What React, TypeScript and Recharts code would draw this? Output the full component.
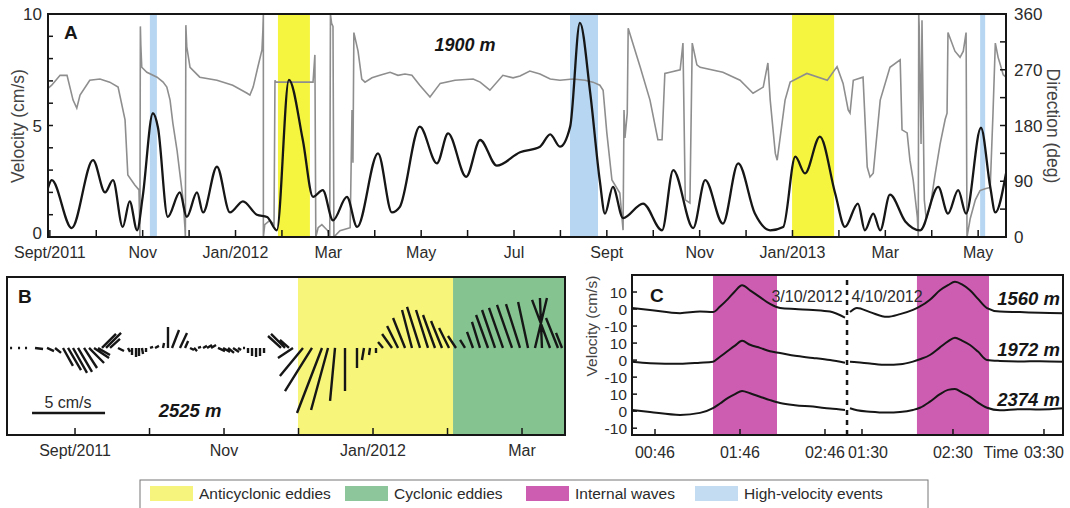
import React from 'react';
import { ComposedChart, Line, XAxis, YAxis, ReferenceArea, ReferenceLine } from 'recharts';

const FONT = "'Liberation Sans', Arial, sans-serif";
const INK = '#161616';
const TXT = '#2b2b2b';

// ---------- Panel A (1900 m), x = months since 1 Sept 2011 ----------
const A_VELOCITY: [number, number][] = [
  [-0.04, 2.2], [0.04, 2.55], [0.47, 0.4], [0.93, 3.45], [1.19, 2.0], [1.36, 2.55], [1.57, 0.45],
  [1.72, 1.6], [1.88, 0.3], [2.0, 1.8], [2.22, 5.55], [2.33, 4.9], [2.54, 0.9], [2.8, 2.0],
  [2.95, 0.9], [3.17, 2.0], [3.3, 1.1], [3.6, 3.15], [3.88, 1.1], [4.16, 1.6], [4.46, 1.0],
  [4.68, 0.9], [4.89, 0.3], [5.15, 7.05], [5.45, 4.35], [5.67, 1.8], [5.88, 2.1], [6.1, 0.75],
  [6.4, 1.8], [6.62, 0.45], [7.07, 3.75], [7.37, 1.1], [7.54, 1.35], [7.97, 4.95], [8.34, 3.3],
  [8.58, 4.65], [8.97, 2.7], [9.27, 4.35], [9.63, 3.2], [10.13, 3.8], [10.56, 4.05], [10.78, 4.6],
  [10.99, 4.05], [11.21, 4.95], [11.42, 9.6], [11.64, 6.5], [11.85, 2.5], [11.96, 1.05],
  [12.13, 2.25], [12.35, 0.85], [12.78, 1.5], [13.19, 0.3], [13.43, 3.0], [13.86, 0.4],
  [14.12, 2.55], [14.5, 0.6], [14.83, 3.3], [15.19, 1.05], [15.52, 0.3], [15.8, 0.45],
  [16.06, 3.6], [16.27, 2.85], [16.59, 4.5], [16.92, 1.95], [17.13, 0.45], [17.41, 1.5],
  [17.56, 0.3], [17.74, 1.05], [17.89, 0.3], [18.1, 1.9], [18.43, 0.7], [18.75, 0.3],
  [19.14, 2.25], [19.35, 1.05], [19.57, 2.1], [19.74, 1.05], [20.06, 4.9], [20.26, 2.25],
  [20.37, 1.1], [20.6, 2.85],
];

const A_DIRECTION: [number, number][] = [
  [-0.04, 240], [0.04, 245], [0.22, 261], [0.37, 261], [0.5, 221], [0.58, 208], [0.65, 229],
  [0.86, 253], [1.08, 255], [1.29, 250], [1.47, 242], [1.62, 189], [1.68, 100], [1.83, 84],
  [1.92, 76], [1.94, 0], [1.95, 340], [1.96, 310], [1.98, 274], [2.09, 266], [2.31, 258],
  [2.44, 250], [2.52, 242], [2.59, 221], [2.65, 184], [2.74, 140], [2.8, 103], [2.87, 60],
  [2.91, 16], [2.92, 0], [2.93, 342], [2.95, 307], [3.02, 274], [3.23, 258], [3.6, 253],
  [3.94, 245], [4.25, 232], [4.31, 229], [4.38, 242], [4.48, 274], [4.57, 302], [4.59, 334],
  [4.6, 360], [4.6, 0], [4.63, 20], [4.74, 27], [4.83, 20], [4.85, 253], [4.87, 250],
  [5.17, 250], [5.5, 250], [5.67, 250], [5.71, 294], [5.73, 0], [5.78, 15], [5.86, 20],
  [5.99, 10], [6.03, 0], [6.045, 360], [6.07, 345], [6.1, 340], [6.12, 0], [6.25, 10],
  [6.47, 15], [6.51, 205], [6.53, 120], [6.55, 330], [6.64, 300], [6.72, 255], [6.79, 250],
  [6.94, 257], [7.11, 261], [7.33, 266], [7.5, 261], [7.65, 263], [7.8, 261], [7.97, 245],
  [8.19, 226], [8.41, 248], [8.73, 253], [9.12, 255], [9.27, 250], [9.48, 237], [9.76, 261],
  [9.98, 257], [10.13, 260], [10.34, 268], [10.56, 263], [10.78, 255], [10.99, 253],
  [11.27, 255], [11.53, 253], [11.7, 250], [11.85, 245], [11.92, 237], [12.0, 168],
  [12.11, 92], [12.28, 71], [12.35, 11], [12.37, 205], [12.39, 160], [12.44, 200], [12.46, 337],
  [12.72, 274], [12.93, 221], [13.1, 157], [13.19, 157], [13.25, 264], [13.36, 266],
  [13.58, 270], [13.64, 313], [13.69, 60], [13.79, 55], [13.84, 313], [13.94, 278], [14.01, 274],
  [14.5, 266], [14.87, 253], [15.15, 232], [15.37, 242], [15.47, 281], [15.52, 221],
  [15.63, 135], [15.67, 124], [15.84, 221], [15.95, 250], [16.31, 264], [16.75, 253],
  [16.96, 275], [17.09, 248], [17.2, 205], [17.24, 200], [17.31, 253], [17.52, 258],
  [17.61, 113], [17.67, 97], [17.74, 103], [17.89, 221], [18.1, 274], [18.32, 286],
  [18.36, 173], [18.47, 168], [18.53, 124], [18.6, 92], [18.69, 32], [18.71, 0], [18.72, 360],
  [18.73, 340], [18.77, 150], [18.79, 350], [18.84, 60], [18.88, 30], [18.97, 50], [19.07, 100],
  [19.18, 150], [19.29, 190], [19.33, 200], [19.35, 330], [19.4, 320], [19.5, 300],
  [19.61, 290], [19.68, 300], [19.74, 330], [19.76, 0], [19.83, 30], [19.94, 60], [20.04, 75],
  [20.15, 78], [20.26, 80], [20.32, 200], [20.37, 313], [20.43, 290], [20.47, 280],
  [20.54, 262], [20.6, 258],
];

const A_MONTH_LABELS = ['Sept/2011', 'Nov', 'Jan/2012', 'Mar', 'May', 'Jul', 'Sept', 'Nov', 'Jan/2013', 'Mar', 'May'];
const A_YELLOW: [number, number][] = [[4.914, 5.603], [15.991, 16.897]];
const A_BLUE: [number, number][] = [[2.155, 2.306], [11.207, 11.81], [20.043, 20.151]];

// ---------- Panel B (2525 m) stick plot, x = months since 1 Sept 2011 ----------
const STICK_T = [
  -0.872, -0.765, -0.671, -0.537, -0.376, -0.268, -0.161, -0.094, -0.027, 0.04, 0.121, 0.188,
  0.255, 0.309, 0.362, 0.416, 0.47, 0.577, 0.711, 0.765, 0.819, 0.859, 0.899, 0.953, 1.007,
  1.074, 1.181, 1.248, 1.302, 1.409, 1.477, 1.544, 1.597, 1.651, 1.718, 1.772, 1.826, 1.919,
  1.987, 2.054, 2.121, 2.188, 2.255, 2.322, 2.376, 2.43, 2.483, 2.537, 2.765, 2.819, 2.872,
  2.926, 3.06, 3.181, 3.315, 3.396, 3.49, 3.624, 3.785, 3.879, 3.96, 4.04, 4.134, 4.255, 4.336,
  4.43, 4.523, 4.631, 4.738, 4.832, 4.926, 5.02, 5.114, 5.235, 5.342, 5.436, 5.544, 5.638,
  5.745, 5.866, 5.973, 6.081, 6.174, 6.268, 6.376, 6.483, 6.537,
];
// east / north components, cm/s
const STICK_U = [
  0.14, 0.14, 0.14, 0.55, 0.48, 0.41, 0.68, 0.89, 0.96, 0.96, 0.89, 1.03, 1.03, 0.82, 0.96, 1.03,
  0.68, 0.41, 0.14, 0, 0, 0, 0.07, 0, 0.21, 0.27, 0.07, 0, 0.48, 0.48, 0.21, 0.27, 0.21, 0.21,
  0.27, 0.34, 0.34, 0.48, 0.48, 0.41, 0.41, 0.21, 0.14, 0, 0, 0, 0, 0, -0.89, -0.96, -0.62,
  -1.03, -1.58, -1.85, -1.71, -1.16, -0.34, 0, 0, -0.14, -0.07, 0, -0.34, -0.68, -0.75, -0.82,
  -0.68, -0.89, -0.82, -0.82, -0.75, -0.68, -0.55, -0.34, -0.41, -0.55, -0.82, -0.89, -0.96,
  -1.03, -0.96, -0.68, 0.82, -0.14, -1.23, -0.82, -0.41,
];
const STICK_V = [
  0, 0, 0, -0.07, -0.21, -0.34, -1.23, -1.51, -1.71, -1.64, -1.37, -1.03, -0.68, -0.48, 0.96,
  1.03, 0.62, -0.21, -0.27, -0.48, -0.62, -0.55, -0.41, -0.27, 0.07, 0.14, 0.34, 1.44, 1.23,
  1.03, 0.48, -0.14, -0.21, 0.07, 0.14, 0.21, 0.21, -0.21, -0.27, -0.34, -0.27, -0.14, 0,
  -0.34, -0.55, -0.62, -0.55, -0.34, 0.82, 0.96, 0.55, -0.68, -1.92, -2.95, -4.45, -4.25,
  -3.63, -2.95, -1.37, -0.82, -0.48, -0.34, 0.41, 0.96, 1.51, 2.05, 2.6, 2.81, 2.6, 2.26, 1.85,
  1.37, 0.82, 0.55, 1.1, 1.78, 2.26, 2.6, 2.74, 2.95, 3.01, 3.15, 3.42, 3.42, 3.29, 2.05, 1.03,
];
const B_MONTH_LABELS = ['Sept/2011', 'Nov', 'Jan/2012', 'Mar'];
const B_YELLOW: [number, number] = [2.993, 5.074];
const B_GREEN: [number, number] = [5.074, 6.577];
const SCALE_BAR = { t: -0.577, v: -4.45, speed: 5 };

// ---------- Panel C internal waves ----------
const C_DAY1_TIME = [0.496, 0.708, 1.061, 1.296, 1.449, 1.532, 1.626, 1.708, 1.791, 1.885, 2.002, 2.12, 2.238, 2.414, 2.626, 2.826, 3.002];
const C1560_DAY1 = [0.6, -0.5, -2.4, -1.5, -1.8, 1.5, 6, 10.5, 14, 11, 7, 3, 0.6, 0, -0.5, -1.5, -5];
const C1972_DAY1 = [-0.9, -1.8, -2.2, -1.5, -0.9, 2, 5.5, 8.5, 11.3, 9, 7.2, 5.2, 4.2, 2.5, 1.3, 0, -1.6];
const C2374_DAY1 = [0.7, -0.5, -2.2, -1, 1.8, 4.5, 7.8, 10, 11.9, 10.5, 8.5, 6.5, 4.8, 3.5, 2.7, 1.5, 0.7];
const C_DAY2_TIME = [1.368, 1.445, 1.588, 1.775, 1.918, 2.06, 2.137, 2.247, 2.357, 2.445, 2.522, 2.599, 2.687, 2.775, 2.874, 3.016, 3.236, 3.456, 3.709];
const C1560_DAY2 = [-1.8, 0.6, -1.8, -4.6, -3, -0.5, 1.5, 5.5, 11, 14, 16, 14.5, 11, 6, 0.6, -1.5, -1.8, -2.2, -2.4];
const C1972_DAY2 = [-0.9, -1.2, -2, -2.8, -2.5, -0.9, 0.5, 3, 7.5, 11, 13.2, 11.5, 8.9, 5, 0.1, -0.5, -0.8, -0.6, -0.9];
const C2374_DAY2 = [1.7, 0.5, -0.3, -0.8, -0.5, 0.7, 2, 5.6, 10, 12.5, 13, 11, 8.5, 5, 2, 0.5, 1.2, 1, 1.7];
const C_DEPTHS = ['1560 m', '1972 m', '2374 m'];
const C_OFFSETS = [60, 30, 0];
const C_DAY1_TICKS = ['00:46', '01:46', '02:46'];
const C_DAY2_TICKS = ['01:30', '02:30', '03:30'];
const C_WAVES_DAY1: [number, number] = [1.449, 2.202];
const C_WAVES_DAY2: [number, number] = [2.104, 2.896];
const C_BREAK_DAY1 = 3.026;

const LEGEND = [
  { label: 'Anticyclonic eddies', color: '#f6f47c', x: 150 },
  { label: 'Cyclonic eddies', color: '#8cc69a', x: 345 },
  { label: 'Internal waves', color: '#cc5db0', x: 526 },
  { label: 'High-velocity events', color: '#c4dcf2', x: 695 },
];

const hm = (s: string) => {
  const [h, m] = s.split(':').map(Number);
  return h + m / 60;
};
// broken time axis: day 2 continues right of the dashed line
const day1Axis = (h: number) => h;
const day2Axis = (h: number) => 3.202 + (h - 1.5) * 1.0706;

const bottomTick = (labelOf: (v: number) => string | undefined, len: number, size: number, gap: number,
  shiftOf: (v: number) => number = () => 0) =>
  (p: any) => {
    const label = labelOf(p.payload.value);
    return (
      <g>
        <line x1={p.x} x2={p.x} y1={p.y} y2={p.y - len} stroke={INK} strokeWidth={1.5} />
        {label ? (
          <text x={p.x + shiftOf(p.payload.value)} y={p.y + gap} textAnchor="middle" fontSize={size} fontFamily={FONT} fill={TXT}>{label}</text>
        ) : null}
      </g>
    );
  };

const sideTick = (labelOf: (v: number) => string | undefined, side: 1 | -1, len: number, size: number, gap: number,
  dyOf: (v: number) => string = () => '0.36em') =>
  (p: any) => {
    const label = labelOf(p.payload.value);
    return (
      <g>
        <line x1={p.x} x2={p.x + side * len} y1={p.y} y2={p.y} stroke={INK} strokeWidth={1.5} />
        {label ? (
          <text x={p.x - side * gap} y={p.y} dy={dyOf(p.payload.value)} textAnchor={side === 1 ? 'end' : 'start'} fontSize={size} fontFamily={FONT} fill={TXT}>{label}</text>
        ) : null}
      </g>
    );
  };

export default function App() {
  const velData = A_VELOCITY.map(([t, v]) => ({ t, v }));
  const dirData = A_DIRECTION.map(([t, d]) => ({ t, d }));
  const monthTicksA = Array.from({ length: 21 }, (_, i) => i);

  const bX: [number, number] = [-0.913, 6.577];
  const bY: [number, number] = [-5.96, 4.86];
  const K = (158 / (bY[1] - bY[0])) / (558 / (bX[1] - bX[0]));
  const sticks: { x: number; y: number | null }[] = [];
  STICK_T.forEach((t, i) => {
    const tip = t + STICK_U[i] * K;
    sticks.push({ x: t, y: 0 }, { x: tip, y: STICK_V[i] }, { x: tip, y: null });
  });

  const cBreak = day1Axis(C_BREAK_DAY1);
  const cRows = [
    ...C_DAY1_TIME.map((h, i) => ({ x: day1Axis(h), a: C1560_DAY1[i] + C_OFFSETS[0], b: C1972_DAY1[i] + C_OFFSETS[1], c: C2374_DAY1[i] + C_OFFSETS[2] })),
    { x: cBreak, a: null, b: null, c: null },
    ...C_DAY2_TIME.map((h, i) => ({ x: day2Axis(h), a: C1560_DAY2[i] + C_OFFSETS[0], b: C1972_DAY2[i] + C_OFFSETS[1], c: C2374_DAY2[i] + C_OFFSETS[2] })),
  ];
  const cTicks = [...C_DAY1_TICKS.map((s) => day1Axis(hm(s))), ...C_DAY2_TICKS.map((s) => day2Axis(hm(s)))];
  const cTickLabels = [...C_DAY1_TICKS, ...C_DAY2_TICKS];
  const cIndex = (v: number) => cTicks.findIndex((t) => Math.abs(t - v) < 1e-6);
  const cLabelOf = (v: number) => {
    const i = cIndex(v);
    return i >= 0 ? cTickLabels[i] : undefined;
  };
  // the first day-2 label sits a little right of its tick, clear of the break
  const cShift = (v: number) => (cIndex(v) === 3 ? 6 : 0);

  return (
    <div style={{ position: 'absolute', left: 0, top: 0, width: 1070, height: 508, background: '#fff', fontFamily: FONT }}>
      {/* Panel A */}
      <div style={{ position: 'absolute', left: 0, top: 0 }}>
        <ComposedChart width={1070} height={265} margin={{ top: 14, right: 0, bottom: 0, left: 0 }}>
          <XAxis type="number" dataKey="t" domain={[-0.04, 20.6]} allowDataOverflow ticks={monthTicksA} interval={0}
            tickSize={0} tickMargin={0} axisLine={false} tickLine={false} height={28}
            tick={bottomTick((v) => (v % 2 === 0 ? A_MONTH_LABELS[v / 2] : undefined), 7, 16, 21)} />
          <YAxis yAxisId="v" orientation="left" width={48} domain={[0, 10]} allowDataOverflow
            ticks={[0, 1, 2, 3, 4, 5, 6, 7, 8, 9, 10]} interval={0} tickSize={0} tickMargin={0} axisLine={false} tickLine={false}
            tick={sideTick((v) => (v % 5 === 0 ? String(v) : undefined), 1, 5, 17, 6, (v) => (v === 0 ? '0.12em' : '0.36em'))} />
          <YAxis yAxisId="d" orientation="right" width={64} domain={[0, 360]} allowDataOverflow
            ticks={[0, 45, 90, 135, 180, 225, 270, 315, 360]} interval={0} tickSize={0} tickMargin={0} axisLine={false} tickLine={false}
            tick={sideTick((v) => (v % 90 === 0 ? String(v) : undefined), -1, 6, 17, 8)} />
          {A_YELLOW.map(([a, b], i) => (
            <ReferenceArea key={'y' + i} yAxisId="v" x1={a} x2={b} fill="#f5f53f" fillOpacity={1} stroke="none" />
          ))}
          {A_BLUE.map(([a, b], i) => (
            <ReferenceArea key={'b' + i} yAxisId="v" x1={a} x2={b} fill="#b6d6f2" fillOpacity={1} stroke="none" />
          ))}
          <Line yAxisId="d" data={dirData} dataKey="d" type="linear" stroke="#8e8e8e" strokeWidth={1.6}
            dot={false} activeDot={false} isAnimationActive={false} />
          <Line yAxisId="v" data={velData} dataKey="v" type="monotone" stroke={INK} strokeWidth={2.3}
            dot={false} activeDot={false} isAnimationActive={false} />
        </ComposedChart>
      </div>

      {/* Panel B */}
      <div style={{ position: 'absolute', left: 0, top: 270 }}>
        <ComposedChart width={580} height={195} margin={{ top: 7, right: 15, bottom: 0, left: 7 }}>
          <XAxis type="number" dataKey="x" domain={bX} allowDataOverflow ticks={[0, 1, 2, 3, 4, 5, 6]} interval={0}
            tickSize={0} tickMargin={0} axisLine={false} tickLine={false} height={30}
            tick={bottomTick((v) => (v % 2 === 0 ? B_MONTH_LABELS[v / 2] : undefined), 7, 16, 21)} />
          <YAxis hide domain={bY} allowDataOverflow />
          <ReferenceArea x1={B_YELLOW[0]} x2={B_YELLOW[1]} fill="#f7f57a" fillOpacity={1} stroke="none" />
          <ReferenceArea x1={B_GREEN[0]} x2={B_GREEN[1]} fill="#85c391" fillOpacity={1} stroke="none" />
          <Line data={sticks} dataKey="y" type="linear" stroke={INK} strokeWidth={2.4} connectNulls={false}
            dot={false} activeDot={false} isAnimationActive={false} />
          <ReferenceLine ifOverflow="visible" stroke={INK} strokeWidth={2.5}
            segment={[{ x: SCALE_BAR.t, y: SCALE_BAR.v }, { x: SCALE_BAR.t + SCALE_BAR.speed * K, y: SCALE_BAR.v }]} />
        </ComposedChart>
      </div>

      {/* Panel C */}
      <div style={{ position: 'absolute', left: 580, top: 265 }}>
        <ComposedChart width={490} height={200} data={cRows} margin={{ top: 10, right: 7, bottom: 0, left: 0 }}>
          <XAxis type="number" dataKey="x" domain={[0.496, 5.567]} allowDataOverflow ticks={cTicks} interval={0}
            tickSize={0} tickMargin={0} axisLine={false} tickLine={false} height={30}
            tick={bottomTick(cLabelOf, 6, 16, 23, cShift)} />
          <YAxis width={52} domain={[-14, 80]} allowDataOverflow ticks={[-10, 0, 10, 20, 30, 40, 50, 60, 70]} interval={0}
            tickSize={0} tickMargin={0} axisLine={false} tickLine={false}
            tick={sideTick((v) => String(((v + 10) % 30) - 10), 1, 5, 15.5, 5)} />
          <ReferenceArea x1={day1Axis(C_WAVES_DAY1[0])} x2={day1Axis(C_WAVES_DAY1[1])} fill="#cc5db0" fillOpacity={1} stroke="none" />
          <ReferenceArea x1={day2Axis(C_WAVES_DAY2[0])} x2={day2Axis(C_WAVES_DAY2[1])} fill="#cc5db0" fillOpacity={1} stroke="none" />
          <ReferenceLine x={cBreak} stroke={INK} strokeWidth={2.5} strokeDasharray="5 5" />
          {['a', 'b', 'c'].map((k) => (
            <Line key={k} dataKey={k} type="monotone" stroke={INK} strokeWidth={2} connectNulls={false}
              dot={false} activeDot={false} isAnimationActive={false} />
          ))}
        </ComposedChart>
      </div>

      {/* frames, annotations, legend */}
      <svg width={1070} height={508} style={{ position: 'absolute', left: 0, top: 0, pointerEvents: 'none' }} fontFamily={FONT}>
        <rect x={48} y={14} width={958} height={223} fill="none" stroke={INK} strokeWidth={2} />
        <rect x={7} y={277} width={558} height={158} fill="none" stroke={INK} strokeWidth={2} />
        <rect x={632} y={275} width={431} height={160} fill="none" stroke={INK} strokeWidth={2} />

        <text x={64} y={39} fontSize={19} fontWeight="bold" fill={INK}>A</text>
        <text x={465} y={51} fontSize={18} fontWeight="bold" fontStyle="italic" textAnchor="middle" fill={INK}>1900 m</text>
        <text transform="translate(24,126) rotate(-90)" textAnchor="middle" fontSize={17.5} fill="#444">Velocity (cm/s)</text>
        <text transform="translate(1047,126) rotate(90)" textAnchor="middle" fontSize={17.5} fill="#444">Direction (deg)</text>

        <text x={18} y={303} fontSize={19} fontWeight="bold" fill={INK}>B</text>
        <text x={68} y={408} fontSize={16} textAnchor="middle" fill={TXT}>5 cm/s</text>
        <text x={190} y={417} fontSize={18.5} fontWeight="bold" fontStyle="italic" textAnchor="middle" fill={INK}>2525 m</text>

        <text x={650} y={302} fontSize={19} fontWeight="bold" fill={INK}>C</text>
        <text x={807} y={302} fontSize={16} textAnchor="middle" fill={TXT}>3/10/2012</text>
        <text x={887} y={302} fontSize={16} textAnchor="middle" fill={TXT}>4/10/2012</text>
        {C_DEPTHS.map((d, i) => (
          <text key={d} x={1060} y={[305, 356, 406][i]} fontSize={18.5} fontWeight="bold" fontStyle="italic" textAnchor="end" fill={INK}>{d}</text>
        ))}
        <text x={1001} y={458} fontSize={16} textAnchor="middle" fill={TXT}>Time</text>
        <text transform="translate(597,326) rotate(-90)" textAnchor="middle" fontSize={15.5} fill="#444">Velocity (cm/s)</text>

        <rect x={140} y={480} width={788} height={34} fill="none" stroke="#777" strokeWidth={1} />
        {LEGEND.map((l) => (
          <g key={l.label}>
            <rect x={l.x} y={486} width={43} height={15} fill={l.color} />
            <text x={l.x + 49} y={499} fontSize={15.5} fill={TXT}>{l.label}</text>
          </g>
        ))}
      </svg>
    </div>
  );
}
